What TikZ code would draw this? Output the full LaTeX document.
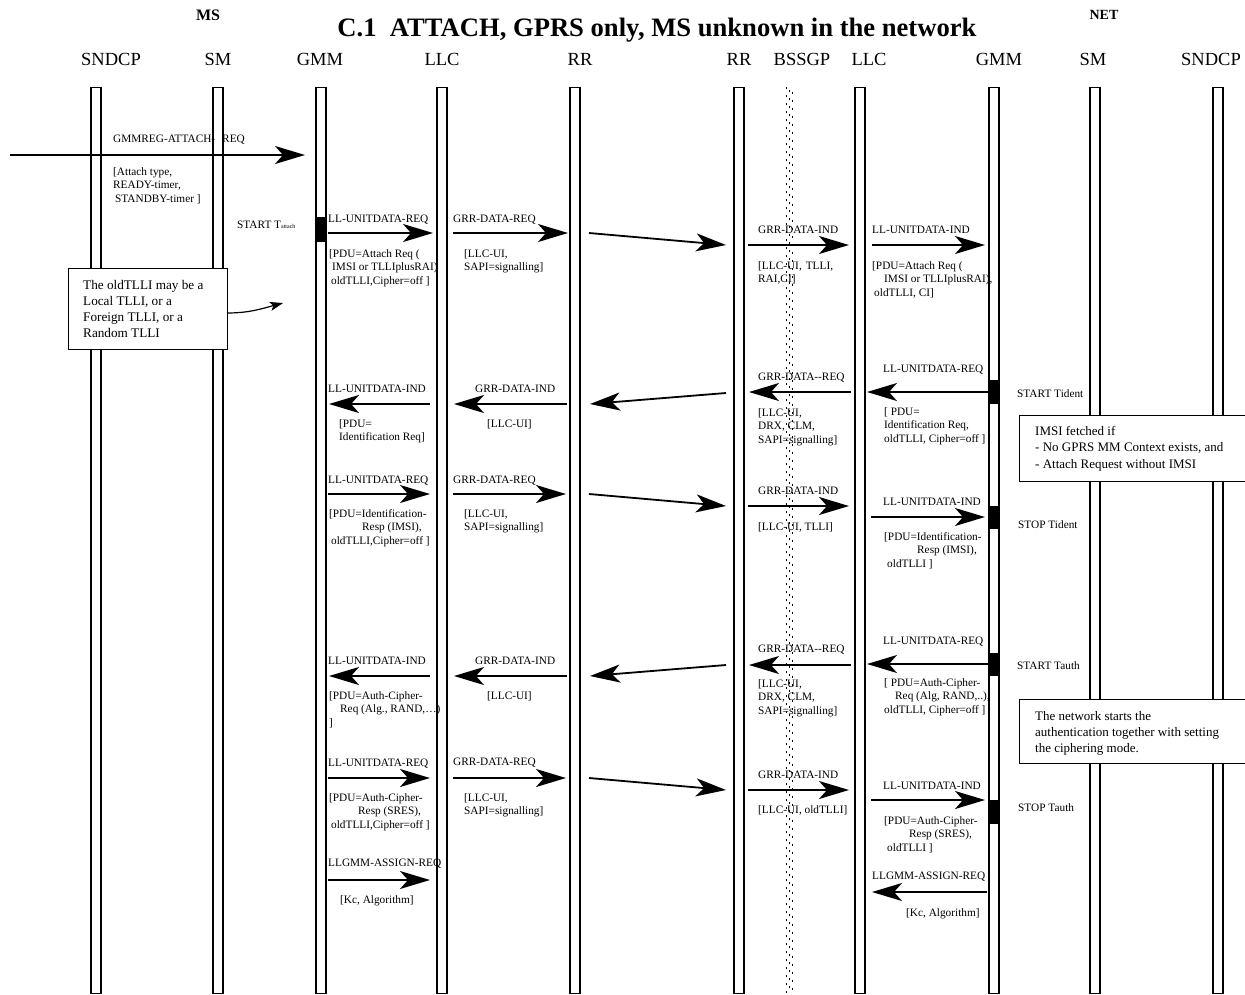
\documentclass[tikz,border=0pt]{standalone}
\usepackage{fontspec}
\setmainfont{Liberation Serif}
\usetikzlibrary{arrows.meta}
\newcommand\msgarrow[5]{\coordinate (#1s) at (#2,#3);\coordinate (#1e) at (#4,#5);\draw[msg] (#1s) -- (#1e);}
\begin{document}
\begin{tikzpicture}[x=1pt,y=-1pt,
  life/.style={draw,line width=1.4pt,inner sep=0pt,minimum width=10pt,minimum height=906pt,anchor=north},
  msg/.style={line width=1.8pt,-{Stealth[length=30pt,width=18pt,inset=8pt]}},
  lbl/.style={anchor=west,inner sep=0pt,font=\fontsize{11.3}{13.8}\selectfont},
  prm/.style={anchor=north west,inner sep=0pt,align=left,font=\fontsize{11.3}{13.8}\selectfont},
  hdr/.style={inner sep=0pt,font=\fontsize{18.5}{20}\selectfont},
  notebox/.style={draw,line width=1.4pt,fill=white,inner sep=0pt,anchor=north west},
  notetxt/.style={anchor=north west,inner sep=0pt,align=left},
  actbox/.style={fill=black,inner sep=0pt,minimum width=10pt,anchor=north},
  dots/.style={line width=1.8pt,dash pattern=on 1.8pt off 6.2pt}
]
\useasboundingbox (0,0) rectangle (1245,994);

% title and headers
\node[inner sep=0pt,font=\fontsize{26.6}{28}\selectfont\bfseries] (title) at (657,30) {C.1\hspace{0.5em}ATTACH, GPRS only, MS unknown in the network};
\node[inner sep=0pt,font=\fontsize{16}{18}\selectfont\bfseries] (hms) at (208,15) {MS};
\node[inner sep=0pt,font=\fontsize{14}{16}\selectfont\bfseries] (hnet) at (1104,15) {NET};
\node[hdr] (h1) at (111,59) {SNDCP};
\node[hdr] (h2) at (218,59) {SM};
\node[hdr] (h3) at (320,59) {GMM};
\node[hdr] (h4) at (442,59) {LLC};
\node[hdr] (h5) at (580,59) {RR};
\node[hdr] (h6) at (739,59) {RR};
\node[hdr] (h7) at (802,59) {BSSGP};
\node[hdr] (h8) at (869,59) {LLC};
\node[hdr] (h9) at (999,59) {GMM};
\node[hdr] (h10) at (1093,59) {SM};
\node[hdr] (h11) at (1211,59) {SNDCP};

% texts
\node[lbl] (t1) at (113,140) {GMMREG-ATTACH-\hspace*{7pt}REQ};
\node[prm] (p1) at (113,167) {[Attach type,\\READY-timer,\\\hspace*{2pt}STANDBY-timer ]};
\node[lbl] (tst) at (237,225) {START T{\fontsize{6}{6}\selectfont attach}};

\node[lbl] (t2) at (328,220) {LL-UNITDATA-REQ};
\node[prm] (p2) at (329,249) {[PDU=Attach Req (\\\hspace*{3pt}IMSI or TLLIplusRAI)\\\hspace*{2pt}oldTLLI,Cipher=off ]};
\node[lbl] (t3) at (453,220) {GRR-DATA-REQ};
\node[prm] (p3) at (464,249) {[LLC-UI,\\SAPI=signalling]};
\node[lbl] (t5) at (758,230) {GRR-DATA-IND};
\node[prm] (p5) at (758,261) {[LLC-UI,\hspace*{4pt}TLLI,\\RAI,CI]};
\node[lbl] (t6) at (872,230) {LL-UNITDATA-IND};
\node[prm] (p6) at (872,261) {[PDU=Attach Req (\\\hspace*{12pt}IMSI or TLLIplusRAI),\\\hspace*{2pt}oldTLLI, CI]};

\node[lbl] (t7) at (883,370) {LL-UNITDATA-REQ};
\node[prm] (p7) at (884,407) {[ PDU=\\Identification Req,\\oldTLLI, Cipher=off ]};
\node[lbl] (tsi) at (1017,394) {START Tident};
\node[lbl] (t8) at (758,378) {GRR-DATA-{}-REQ};
\node[prm] (p8) at (758,408) {[LLC-UI,\\DRX, CLM,\\SAPI=signalling]};
\node[lbl] (t10) at (475,389) {GRR-DATA-IND};
\node[prm] (p10) at (487,419) {[LLC-UI]};
\node[lbl] (t11) at (328,389) {LL-UNITDATA-IND};
\node[prm] (p11) at (339,419) {[PDU=\\Identification Req]};

\node[lbl] (t12) at (328,481) {LL-UNITDATA-REQ};
\node[prm] (p12) at (329,509) {[PDU=Identification-\\\hspace*{33pt}Resp (IMSI),\\\hspace*{2pt}oldTLLI,Cipher=off ]};
\node[lbl] (t13) at (453,481) {GRR-DATA-REQ};
\node[prm] (p13) at (464,509) {[LLC-UI,\\SAPI=signalling]};
\node[lbl] (t15) at (758,491) {GRR-DATA-IND};
\node[prm] (p15) at (758,522) {[LLC-UI, TLLI]};
\node[lbl] (t16) at (883,502) {LL-UNITDATA-IND};
\node[prm] (p16) at (884,532) {[PDU=Identification-\\\hspace*{33pt}Resp (IMSI),\\\hspace*{3pt}oldTLLI ]};
\node[lbl] (tsti) at (1018,525) {STOP Tident};

\node[lbl] (t17) at (883,642) {LL-UNITDATA-REQ};
\node[prm] (p17) at (884,678) {[ PDU=Auth-Cipher-\\\hspace*{11pt}Req (Alg, RAND,..),\\oldTLLI, Cipher=off ]};
\node[lbl] (tsa) at (1017,666) {START Tauth};
\node[lbl] (t18) at (758,650) {GRR-DATA-{}-REQ};
\node[prm] (p18) at (758,679) {[LLC-UI,\\DRX, CLM,\\SAPI=signalling]};
\node[lbl] (t20) at (475,661) {GRR-DATA-IND};
\node[prm] (p20) at (487,691) {[LLC-UI]};
\node[lbl] (t21) at (328,661) {LL-UNITDATA-IND};
\node[prm] (p21) at (329,691) {[PDU=Auth-Cipher-\\\hspace*{11pt}Req (Alg., RAND,…)\\]};

\node[lbl] (t22) at (328,764) {LL-UNITDATA-REQ};
\node[prm] (p22) at (329,793) {[PDU=Auth-Cipher-\\\hspace*{29pt}Resp (SRES),\\\hspace*{2pt}oldTLLI,Cipher=off ]};
\node[lbl] (t23) at (453,763) {GRR-DATA-REQ};
\node[prm] (p23) at (464,793) {[LLC-UI,\\SAPI=signalling]};
\node[lbl] (t25) at (758,775) {GRR-DATA-IND};
\node[prm] (p25) at (758,805) {[LLC-UI, oldTLLI]};
\node[lbl] (t26) at (883,786) {LL-UNITDATA-IND};
\node[prm] (p26) at (884,816) {[PDU=Auth-Cipher-\\\hspace*{25pt}Resp (SRES),\\\hspace*{3pt}oldTLLI ]};
\node[lbl] (tsta) at (1018,808) {STOP Tauth};

\node[lbl] (t27) at (328,864) {LLGMM-ASSIGN-REQ};
\node[prm] (p27) at (340,895) {[Kc, Algorithm]};
\node[lbl] (t28) at (872,877) {LLGMM-ASSIGN-REQ};
\node[prm] (p28) at (906,908) {[Kc, Algorithm]};

% lifelines
\node[life] (l1) at (96,87) {};
\node[life] (l2) at (218,87) {};
\node[life] (l3) at (321,87) {};
\node[life] (l4) at (442,87) {};
\node[life] (l5) at (575,87) {};
\node[life] (l6) at (739,87) {};
\node[life] (l8) at (860,87) {};
\node[life] (l9) at (994,87) {};
\node[life] (l10) at (1095,87) {};
\node[life] (l11) at (1218,87) {};

% activation boxes
\node[actbox,minimum height=25pt] (a1) at (321,217) {};
\node[actbox,minimum height=24pt] (a2) at (994,380) {};
\node[actbox,minimum height=23pt] (a3) at (994,506) {};
\node[actbox,minimum height=23pt] (a4) at (994,653) {};
\node[actbox,minimum height=24pt] (a5) at (994,800) {};

% messages
\msgarrow{m1}{10}{155}{305}{155}
\msgarrow{m2}{328}{233}{433}{233}
\msgarrow{m3}{453}{233}{568}{233}
\msgarrow{m4}{589}{233}{726}{245}
\msgarrow{m5}{748}{245}{849}{245}
\msgarrow{m6}{872}{245}{985}{245}
\msgarrow{m7}{988}{392}{867}{392}
\msgarrow{m8}{851}{392}{749}{392}
\msgarrow{m9}{726}{393}{590}{404}
\msgarrow{m10}{567}{404}{454}{404}
\msgarrow{m11}{430}{404}{329}{404}
\msgarrow{m12}{328}{494}{430}{494}
\msgarrow{m13}{453}{494}{566}{494}
\msgarrow{m14}{589}{494}{726}{506}
\msgarrow{m15}{748}{506}{849}{506}
\msgarrow{m16}{871}{517}{985}{517}
\msgarrow{m17}{988}{664}{867}{664}
\msgarrow{m18}{851}{665}{749}{665}
\msgarrow{m19}{726}{665}{590}{676}
\msgarrow{m20}{567}{676}{454}{676}
\msgarrow{m21}{430}{676}{329}{676}
\msgarrow{m22}{328}{778}{430}{778}
\msgarrow{m23}{453}{778}{566}{778}
\msgarrow{m24}{589}{778}{726}{790}
\msgarrow{m25}{748}{790}{849}{790}
\msgarrow{m26}{871}{800}{985}{800}
\msgarrow{m27}{328}{880}{430}{880}
\msgarrow{m28}{987}{892}{872}{892}

% notes
\node[notebox,minimum width=159pt,minimum height=81pt] (n1) at (68,268) {};
\node[notetxt,font=\fontsize{13.2}{16}\selectfont] (n1t) at (83,280) {The oldTLLI may be a\\Local TLLI, or a\\Foreign TLLI, or a\\Random TLLI};
\coordinate (c1) at (227,313);
\coordinate (c2) at (283,303);
\draw[line width=1.2pt,-{Stealth[length=13pt,width=9pt,inset=3pt]}] (c1) to[out=0,in=195] (c2);

\node[notebox,minimum width=245pt,minimum height=66pt] (n2) at (1019,415) {};
\node[notetxt,font=\fontsize{13}{16.5}\selectfont] (n2t) at (1035,426) {IMSI fetched if\\- No GPRS MM Context exists, and\\- Attach Request without IMSI};
\node[notebox,minimum width=245pt,minimum height=64pt] (n3) at (1019,699) {};
\node[notetxt,font=\fontsize{13}{16}\selectfont] (n3t) at (1035,711) {The network starts the\\authentication together with setting\\the ciphering mode.};

% BSSGP dotted lifeline
\draw[dots] (786.5,87) -- (786.5,993);
\draw[dots,dash phase=5.3pt] (789.5,87) -- (789.5,993);
\draw[dots,dash phase=2.7pt] (792.5,87) -- (792.5,993);
\end{tikzpicture}
\end{document}
